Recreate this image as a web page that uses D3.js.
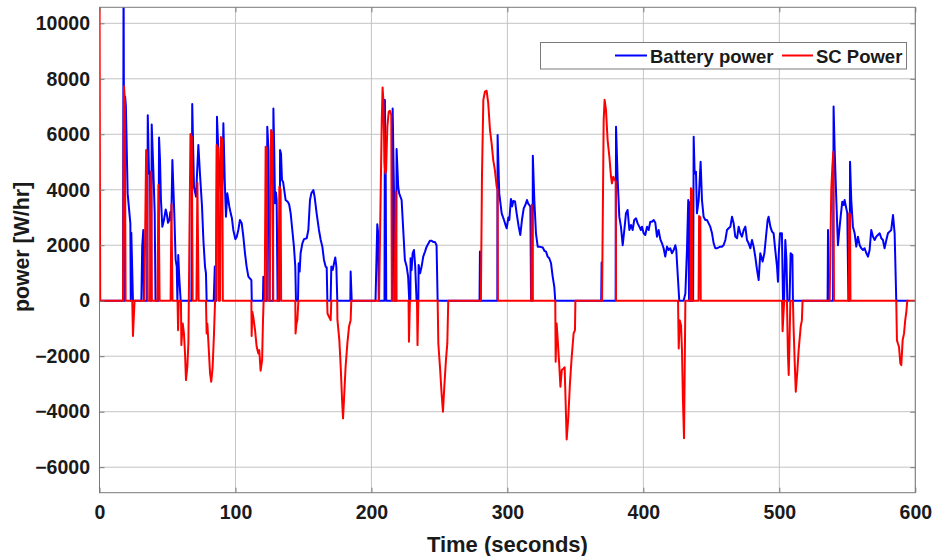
<!DOCTYPE html>
<html><head><meta charset="utf-8">
<script src="https://cdn.jsdelivr.net/npm/d3@7"></script>
<style>
body{margin:0;background:#fff}
svg{display:block}
</style>
</head><body><svg id="c" width="933" height="556"></svg>
<script>
// ---------------- data ----------------
const seriesNames = ["Battery power", "SC Power"];
const seriesColors = ["#0000ff", "#ff0000"];
const xTicks = [0, 100, 200, 300, 400, 500, 600];
const yTicks = [-6000, -4000, -2000, 0, 2000, 4000, 6000, 8000, 10000];
const xLabel = "Time (seconds)";
const yLabel = "power [W/hr]";

// Battery power [time (s), power]
const batteryPoints = [
[0,0],[17.3,0],[17.7,12000],[18.3,0],[18.9,7350],[19.4,7000],[20.7,3860],[22.7,2780],[23.0,0],[23.4,2450],[24.6,0],
[30.8,0],[31.4,1950],[32.2,2550],[32.6,0],[35.0,0],[35.5,6690],[36.4,4590],[37.2,4650],[37.6,0],[38.0,0],[38.4,6350],[39.6,4710],[40.6,3150],[41.2,0],[43.3,0],[43.8,5880],[44.5,5070],[45.2,3630],[46.2,2670],[47.4,2910],[48.7,3290],[49.4,3150],[50.4,2810],[51.4,2910],[52.1,3200],[52.8,2900],[53.6,5070],[54.3,4110],[55.0,3150],[56.0,1470],[56.8,1230],[57.3,0],[57.9,1650],[58.7,800],[59.7,0],
[67.6,0],[68.2,7090],[69.5,4100],[71.0,3750],[71.5,4300],[72.7,5610],[73.9,4570],[75.4,3390],[76.4,2190],[77.6,1230],[78.3,990],[78.8,0],
[84.0,0],[84.8,1230],[85.5,0],[86.0,0],[86.4,6630],[87.6,5190],[88.6,4230],[89.8,3630],[90.6,4500],[91.1,6400],[92.1,4350],[93.0,3030],[94.0,3870],[95.5,3390],[96.5,3150],[97.4,2970],[98.4,2550],[99.9,2220],[100.9,2300],[102.1,2550],[103.3,2910],[104.6,2790],[105.8,2310],[107.0,1710],[108.2,1230],[109.5,870],[110.7,800],[111.7,745],[112.0,0],
[120.2,0],[120.5,865],[120.8,0],[123.0,0],[123.4,6270],[124.3,5430],[125.0,0],[127.6,0],[127.9,6930],[128.5,5430],[129.1,3510],[129.8,3900],[130.3,3630],[131.0,0],[132.5,0],[132.8,5430],[133.5,5300],[134.2,4350],[135.0,4290],[135.7,4050],[136.9,3630],[138.6,3560],[139.5,3470],[140.6,3150],[141.8,2550],[143.0,1950],[144.0,1230],[144.5,0],[146.0,0],[146.5,1350],[147.2,1050],[147.9,1710],[149.2,2070],[150.4,2220],[152.4,2250],[153.6,2550],[154.8,3630],[155.8,3870],[157.3,3990],[158.2,3750],[159.7,3150],[161.4,2550],[162.7,2190],[163.9,1950],[165.1,1470],[166.3,1230],[167.1,1200],[167.6,0],[170.0,0],[170.5,1230],[171.5,1110],[172.5,1350],[173.4,1560],[174.2,1230],[174.9,0],[184.5,0],[184.7,1050],[185.5,0],
[203.0,0],[204.3,2760],[205.0,2400],[205.4,0],[209.6,0],[209.9,7240],[210.5,4500],[210.9,0],[215.3,0],[215.6,6930],[216.6,3870],[217.0,0],[218.2,0],[218.5,5470],[219.7,4110],[220.4,3870],[222.2,3630],[223.4,2550],[224.6,1470],[225.9,1230],[227.0,870],[227.8,0],[228.6,0],[228.8,1530],[229.5,1100],[230.3,1710],[231.3,1830],[232.2,1230],[233.2,0],[234.5,0],[234.7,1290],[235.8,990],[236.9,1230],[238.1,1590],[239.4,1770],[240.6,1950],[242.0,2070],[243.0,2160],[244.3,2160],[245.5,2120],[246.7,2120],[247.9,2000],[248.7,0],
[279.5,0],[279.8,1770],[280.2,0],[292.6,0],[292.8,5970],[294.0,3870],[295.8,3150],[297.5,2910],[299.0,2670],[299.5,2610],[300.7,3000],[301.4,2910],[302.6,3670],[303.5,3400],[304.4,3600],[305.6,3580],[306.8,3150],[308.3,2670],[309.5,2370],[310.7,2910],[312.0,3330],[313.2,3450],[314.4,3630],[315.2,3510],[316.1,3450],[316.9,3390],[317.4,0],[318.5,0],[318.7,5230],[319.8,3630],[321.0,2430],[322.3,1950],[323.5,1950],[326.0,1920],[327.2,1800],[328.4,1770],[329.6,1590],[330.8,1530],[332.1,1350],[333.3,870],[334.5,500],[335.2,0],
[369.0,0],[369.3,1380],[369.6,0],[379.6,0],[379.9,6270],[381.1,4350],[382.3,3030],[383.5,2670],[384.8,2000],[386.0,2550],[387.2,3150],[388.4,3270],[389.7,2550],[390.9,2730],[392.1,2550],[393.3,2910],[394.6,2970],[395.8,2790],[397.0,2670],[398.2,2550],[399.0,2670],[400.2,2430],[401.4,2370],[402.7,2670],[403.9,2550],[405.1,2850],[406.3,2850],[407.6,2910],[408.8,2810],[410.0,2310],[411.2,2550],[412.5,2210],[413.7,2070],[414.9,1890],[416.1,1590],[417.4,1950],[418.6,1830],[419.8,1890],[421.0,1710],[422.3,1830],[423.5,2000],[424.2,1830],[425.5,745],[426.4,0],[429.6,0],[430.9,260],[432.1,1890],[433.0,3630],[433.6,0],[434.3,0],[434.5,3570],[435.3,0],[436.6,0],[437.0,5910],[437.7,4590],[438.7,4650],[439.4,3150],[440.7,3630],[442.1,5010],[443.1,3630],[444.3,3030],[445.6,2910],[446.8,2910],[448.0,2790],[449.2,2670],[450.5,2430],[451.7,2070],[452.9,1890],[454.1,1890],[455.4,1920],[456.6,1950],[457.8,1950],[459.0,2000],[460.3,2190],[461.5,2550],[462.7,2610],[464.0,2670],[465.2,3030],[466.4,2790],[467.6,2310],[468.9,2250],[470.1,2670],[471.3,2430],[472.5,2310],[473.8,2550],[475.0,2670],[476.2,2190],[477.4,2070],[478.7,1890],[479.9,2190],[481.1,1950],[482.3,1590],[483.6,1110],[484.8,745],[486.0,1710],[486.7,1590],[487.7,1410],[489.0,1710],[490.2,2310],[491.4,2910],[492.1,3030],[493.4,2670],[494.6,2490],[495.8,2430],[497.0,1830],[498.3,1230],[499.0,685],[499.6,1700],[500.5,2430],[501.9,2430],[502.7,0],[503.5,0],[504.4,2190],[505.2,1500],[505.9,0],[507.5,0],[508.3,1710],[509.6,1650],[510.0,0],
[535.5,0],[535.8,2550],[536.3,0],[539.5,0],[539.9,7000],[540.7,5430],[541.9,3630],[543.1,2000],[543.9,2430],[545.1,3030],[546.3,3570],[547.3,3450],[548.0,3630],[549.0,3390],[550.0,3150],[550.8,0],[551.7,0],[552.0,5010],[552.9,3630],[554.1,2670],[555.4,2430],[556.6,1950],[557.8,2310],[559.1,2000],[560.3,1890],[561.5,1830],[562.7,1890],[564.0,1710],[565.2,1590],[566.4,1830],[567.6,2550],[568.9,2310],[570.1,2190],[571.3,2310],[572.5,2370],[573.8,2430],[575.0,2250],[576.2,2190],[577.4,1890],[578.7,2190],[579.9,2430],[581.1,2490],[582.3,2550],[583.6,3090],[584.8,2430],[586.0,0],[595,0]
];

// SC power [time (s), power]
const scPoints = [
[0,12000],[0.5,0],[17.3,0],[18.0,7730],[18.6,7300],[19.2,0],[24.1,0],[24.6,-1270],[25.8,0],
[33.0,0],[34.3,5430],[34.9,5300],[35.5,0],[37.2,0],[38.0,4650],[38.5,0],[42.6,0],[43.4,4170],[44.2,0],[52.3,0],[52.9,3480],[53.7,0],
[57.4,0],[57.8,-1060],[58.3,0],[59.9,0],[60.2,-1600],[61.2,-820],[62.1,-1180],[62.9,-1900],[63.6,-2860],[64.6,-2380],[65.4,-1500],[66.9,6010],[67.9,5900],[68.5,0],
[71.3,0],[72.0,4250],[72.9,0],
[78.3,0],[78.8,-1180],[79.3,-820],[80.0,-1420],[81.3,-2620],[82.2,-2920],[83.2,-2400],[84.2,-1200],[85.0,0],[85.5,0],[86.2,5610],[87.3,5500],[87.7,0],[88.6,0],[89.3,5900],[90.3,5800],[90.7,0],
[111.7,0],[111.9,-1270],[112.4,-400],[113.1,-580],[114.4,-1060],[115.6,-1660],[116.8,-1900],[117.5,-1780],[118.5,-2520],[119.6,-2140],[120.2,-800],[120.7,0],[121.5,0],[122.2,5550],[123.0,5500],[123.4,0],[125.2,0],[126.2,6150],[127.2,6000],[127.8,0],[131.6,0],[132.3,4110],[133.2,4000],[133.6,0],
[144.0,0],[144.2,-1180],[144.8,-850],[145.5,-700],[146.3,0],
[167.4,0],[167.7,-460],[168.8,-580],[170.0,-700],[170.5,0],
[174.8,0],[175.0,-700],[176.4,-1420],[177.4,-2380],[178.4,-3580],[179.1,-4240],[179.8,-3580],[181.0,-2380],[182.3,-1540],[183.5,-940],[184.7,-700],[185.2,0],
[205.6,0],[207.6,6500],[208.2,7690],[208.8,7200],[209.6,5000],[210.2,4590],[210.8,4700],[211.7,6270],[212.7,6810],[213.6,6850],[214.6,6700],[215.0,0],
[217.0,0],[217.9,3930],[218.4,0],
[227.3,0],[227.6,-1480],[228.3,0],[233.5,0],[233.9,-1600],[234.5,0],
[248.7,0],[249.2,-1540],[250.4,-2380],[251.6,-3340],[252.6,-4000],[253.6,-3100],[254.8,-2140],[255.8,-1540],[256.5,0],
[280.5,0],[281.3,4500],[282.3,7240],[283.5,7540],[284.7,7570],[285.9,7120],[287.2,6150],[288.4,5670],[289.6,5070],[290.8,4710],[292.1,4110],[292.8,4000],[293.0,0],
[317.5,0],[317.9,3450],[318.5,0],
[335.2,0],[335.5,-2200],[336.2,-820],[337.0,-1400],[338.2,-2380],[339.0,-3100],[340.0,-2500],[341.1,-2450],[342.1,-2400],[343.6,-5000],[344.8,-4200],[346.0,-2980],[347.3,-2020],[348.7,-1180],[349.7,-1060],[350.0,0],
[369.6,0],[370.8,6500],[371.5,7240],[372.5,6880],[373.7,5790],[375.0,5190],[376.2,4470],[376.9,4230],[377.9,4470],[378.9,4350],[379.7,4300],[379.9,0],
[425.5,0],[426.0,-1720],[426.7,-700],[427.7,-880],[428.4,-1780],[429.1,-3580],[429.9,-4960],[430.9,0],
[434.6,0],[435.0,4050],[435.7,4000],[436.1,0],[440.6,0],[441.0,3050],[441.9,3000],[442.2,0],
[502.0,0],[502.4,-1100],[502.9,-600],[503.6,0],[505.6,0],[506.3,-1900],[506.9,-2680],[507.5,-1500],[508.1,0],[510.0,0],[510.5,-1000],[511.3,-2200],[512.1,-3280],[513.3,-2500],[514.2,-1780],[515.7,-940],[516.6,-700],[517.1,0],
[537.0,0],[538.2,4000],[539.0,4830],[539.7,5370],[540.2,0],[551.1,0],[551.4,3150],[552.0,3100],[552.3,0],
[586.0,0],[586.5,-1420],[587.2,-1540],[588.0,-1660],[589.0,-2260],[589.7,-2320],[590.7,-1420],[591.7,-1180],[592.6,-700],[593.4,-400],[594.1,0],[600,0]
];

// ---------------- drawing ----------------
const FONT = '"Liberation Sans", Arial, Helvetica, sans-serif';
const TEXT = "#1a1a1a";
const AX = "#7a7a7a";
const plot = {left: 99.5, right: 915.3, top: 7.3, bottom: 492.7};

const x = d3.scaleLinear().domain([0, 600]).range([plot.left, plot.right]);
const y = d3.scaleLinear().domain([-6920, 10577]).range([plot.bottom, plot.top]);

const svg = d3.select("#c");
svg.append("rect").attr("width", 933).attr("height", 556).attr("fill", "#fff");

// grid
const grid = svg.append("g").attr("stroke", "#c4c4c4").attr("stroke-width", 1);
grid.selectAll("line.gx").data(xTicks).join("line").attr("class", "gx")
  .attr("x1", d => x(d)).attr("x2", d => x(d)).attr("y1", plot.top).attr("y2", plot.bottom);
grid.selectAll("line.gy").data(yTicks).join("line").attr("class", "gy")
  .attr("x1", plot.left).attr("x2", plot.right).attr("y1", d => y(d)).attr("y2", d => y(d));

// lines
svg.append("defs").append("clipPath").attr("id", "clip").append("rect")
  .attr("x", plot.left).attr("y", plot.top)
  .attr("width", plot.right - plot.left).attr("height", plot.bottom - plot.top);

const line = d3.line().x(d => x(d[0])).y(d => y(d[1]));
const lines = svg.append("g").attr("clip-path", "url(#clip)");
[batteryPoints, scPoints].forEach((pts, i) => {
  lines.append("path").datum(pts)
    .attr("d", line).attr("fill", "none")
    .attr("stroke", seriesColors[i]).attr("stroke-width", 2)
    .attr("stroke-linejoin", "round");
});

// box
svg.append("rect").attr("x", plot.left).attr("y", plot.top)
  .attr("width", plot.right - plot.left).attr("height", plot.bottom - plot.top)
  .attr("fill", "none").attr("stroke", AX).attr("stroke-width", 1);

// axes
function styleAxis(g) {
  g.select(".domain").remove();
  g.selectAll(".tick line").attr("stroke", AX);
  g.selectAll(".tick text").attr("font-family", FONT).attr("font-weight", "bold")
    .attr("font-size", 19.5).attr("fill", TEXT);
}
svg.append("g").attr("transform", `translate(0,${plot.bottom})`)
  .call(d3.axisBottom(x).tickValues(xTicks).tickFormat(d3.format("d")).tickSizeInner(-5).tickSizeOuter(0).tickPadding(12))
  .call(styleAxis);
svg.append("g").attr("transform", `translate(${plot.left},0)`)
  .call(d3.axisLeft(y).tickValues(yTicks).tickFormat(d3.format("d")).tickSizeInner(-5).tickSizeOuter(0).tickPadding(9.5))
  .call(styleAxis);
svg.append("g").attr("transform", `translate(0,${plot.top})`)
  .call(d3.axisTop(x).tickValues(xTicks).tickFormat("").tickSizeInner(-5).tickSizeOuter(0))
  .call(styleAxis);
svg.append("g").attr("transform", `translate(${plot.right},0)`)
  .call(d3.axisRight(y).tickValues(yTicks).tickFormat("").tickSizeInner(-5).tickSizeOuter(0))
  .call(styleAxis);

// axis labels
svg.append("text").attr("x", (plot.left + plot.right) / 2).attr("y", 552)
  .attr("text-anchor", "middle").attr("font-family", FONT).attr("font-weight", "bold")
  .attr("font-size", 22).attr("fill", TEXT).text(xLabel);
svg.append("text").attr("transform", `translate(28.5,${(plot.top + plot.bottom) / 2 - 3}) rotate(-90)`)
  .attr("text-anchor", "middle").attr("font-family", FONT).attr("font-weight", "bold")
  .attr("font-size", 21.3).attr("fill", TEXT).text(yLabel);

// legend
const lg = svg.append("g");
lg.append("rect").attr("x", 540.5).attr("y", 42.5).attr("width", 366).attr("height", 26.5)
  .attr("fill", "#fff").attr("stroke", AX).attr("stroke-width", 1);
const legendItems = [
  {lx1: 615, lx2: 647, tx: 650},
  {lx1: 782, lx2: 813, tx: 816}
];
legendItems.forEach((it, i) => {
  lg.append("line").attr("x1", it.lx1).attr("x2", it.lx2).attr("y1", 55.5).attr("y2", 55.5)
    .attr("stroke", seriesColors[i]).attr("stroke-width", 2);
  lg.append("text").attr("x", it.tx).attr("y", 63).attr("font-family", FONT)
    .attr("font-weight", "bold").attr("font-size", 18.5).attr("fill", TEXT).text(seriesNames[i]);
});
</script>
</body></html>
